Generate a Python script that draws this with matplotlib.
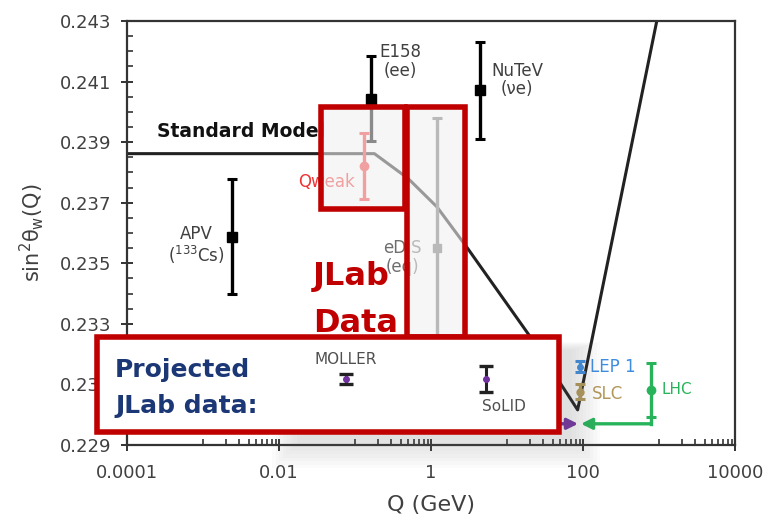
import numpy as np
import matplotlib
matplotlib.use("Agg")
import matplotlib.pyplot as plt
from matplotlib.patches import Rectangle
from matplotlib.ticker import FixedLocator, NullFormatter

# ---------------- data ----------------
sm_q = [1e-4, 0.18, 0.5, 1.2, 3.0, 19.0, 85.0, 935.0]
sm_s = [0.23862, 0.23862, 0.2378, 0.23686, 0.23551, 0.23267, 0.23016, 0.2430]

exp_names = ["APV", "E158", "NuTeV", "Qweak", "eDIS", "LEP 1", "SLC", "LHC"]
exp_labels = ["APV\n($^{133}$Cs)", "E158\n(ee)", "NuTeV\n(νe)", "Qweak", "eDIS\n(eq)",
              "LEP 1", "SLC", "LHC"]
exp_q = [0.0024, 0.163, 4.4, 0.131, 1.2, 91.0, 91.0, 780.0]
exp_s = [0.23587, 0.24043, 0.24072, 0.23821, 0.23551, 0.23158, 0.23076, 0.23082]
exp_err = [0.0019, 0.0014, 0.0016, 0.0011, 0.0043, 0.00018, 0.00025, 0.0009]

proj_names = ["MOLLER", "SoLID"]
proj_q = [0.075, 5.3]
proj_s = [0.23118, 0.23118]
proj_err = [0.00015, 0.00043]

arrow_level = 0.2297
purple_arrow_q = [30.0, 86.0]
green_arrow_q = [780.0, 94.0]

x_ticks = [1e-4, 1e-2, 1, 1e2, 1e4]
x_ticklabels = ["0.0001", "0.01", "1", "100", "10000"]
y_ticks = [0.229, 0.231, 0.233, 0.235, 0.237, 0.239, 0.241, 0.243]
y_ticklabels = ["0.229", "0.231", "0.233", "0.235", "0.237", "0.239", "0.241", "0.243"]

# ---------------- layout helpers ----------------
W, H = 766, 523
fig = plt.figure(figsize=(W / 100, H / 100), dpi=100)
fig.patch.set_facecolor("white")
ax = fig.add_axes([127 / W, 1 - 445 / H, (735 - 127) / W, (445 - 21) / H])

def frect(x0, y0, x1, y1, **kw):
    return Rectangle((x0 / W, 1 - y1 / H), (x1 - x0) / W, (y1 - y0) / H,
                     transform=fig.transFigure, clip_on=False, **kw)

def px2pt(v):
    return v * 72 / 100

GRAY_TXT = "#404040"
RED = "#c00000"

# ---------------- styles per experiment ----------------
styles = {
    "APV":   dict(color="black", marker="s", ms=6.5, txt=GRAY_TXT, off=(-36, -9), ha="center"),
    "E158":  dict(color="black", marker="s", ms=6.5, txt=GRAY_TXT, off=(29, 37), ha="center"),
    "NuTeV": dict(color="black", marker="s", ms=6.5, txt=GRAY_TXT, off=(37, 10), ha="center"),
    "Qweak": dict(color="#f03434", marker="o", ms=6, txt="#f03434", off=(-9, -16), ha="right"),
    "eDIS":  dict(color="#6e6e6e", marker="s", ms=6, txt="#6e6e6e", off=(-35, -10), ha="center"),
    "LEP 1": dict(color="#3d8de0", marker="o", ms=4, txt="#3d8de0", off=(10, 0), ha="left"),
    "SLC":   dict(color="#b3975a", marker="o", ms=5, txt="#b3975a", off=(12, -2), ha="left"),
    "LHC":   dict(color="#27b35a", marker="o", ms=6, txt="#27b35a", off=(11, 0), ha="left"),
}

# Standard Model curve
ax.plot(sm_q, sm_s, color="#222222", lw=2.2, zorder=2)
ax.text(2.48e-4, 0.23934, "Standard Model", fontsize=13.5, fontweight="bold",
        color="#111111", va="center", ha="left", zorder=2)

for name, lab, q, s, e in zip(exp_names, exp_labels, exp_q, exp_s, exp_err):
    st = styles[name]
    ax.errorbar(q, s, yerr=e, fmt=st["marker"], color=st["color"], ms=st["ms"],
                elinewidth=2.4, capsize=3.5, capthick=2.2, zorder=3)
    fs = 11 if name == "LHC" else 12
    ax.annotate(lab, (q, s), xytext=(px2pt(st["off"][0]), px2pt(st["off"][1])),
                textcoords="offset points", ha=st["ha"], va="center",
                fontsize=fs, color=st["txt"], linespacing=1.05, zorder=3)

# green connector from LHC error bar down to arrow level
i_lhc = exp_names.index("LHC")
ax.plot([exp_q[i_lhc], exp_q[i_lhc]], [exp_s[i_lhc] - exp_err[i_lhc], arrow_level],
        color=styles["LHC"]["color"], lw=2.4, zorder=3)
ax.annotate("", xy=(green_arrow_q[1], arrow_level), xytext=(green_arrow_q[0], arrow_level),
            arrowprops=dict(arrowstyle="-|>", color=styles["LHC"]["color"], lw=2.4,
                            mutation_scale=16, shrinkA=0, shrinkB=0), zorder=3)
ax.annotate("", xy=(purple_arrow_q[1], arrow_level), xytext=(purple_arrow_q[0], arrow_level),
            arrowprops=dict(arrowstyle="-|>", color="#7030a0", lw=2.4,
                            mutation_scale=16, shrinkA=0, shrinkB=0), zorder=3)

# ---------------- axes styling ----------------
ax.set_xscale("log")
ax.set_xlim(1e-4, 1e4)
ax.set_ylim(0.229, 0.243)
ax.xaxis.set_major_locator(FixedLocator(x_ticks))
ax.set_xticklabels(x_ticklabels)
minor_x = [k * 10.0 ** d for d in (-3, -1, 1, 3) for k in range(1, 10)]
ax.xaxis.set_minor_locator(FixedLocator(minor_x))
ax.xaxis.set_minor_formatter(NullFormatter())
ax.set_yticks(y_ticks)
ax.set_yticklabels(y_ticklabels)
ax.yaxis.set_minor_locator(FixedLocator(list(np.arange(0.2290, 0.2431, 0.0005))))
for sp in ax.spines.values():
    sp.set_color("#333333")
    sp.set_linewidth(1.6)
ax.tick_params(which="major", direction="inout", length=8, width=1.4, color="#333333",
               labelcolor=GRAY_TXT, labelsize=13)
ax.tick_params(axis="y", which="major", pad=7)
ax.tick_params(axis="x", which="major", pad=10)
ax.tick_params(which="minor", direction="in", length=4.5, width=1.2, color="#333333")
ax.set_xlabel("Q (GeV)", fontsize=16, color=GRAY_TXT, labelpad=9)
ax.set_ylabel(r"sin$^{2}$θ$_{\rm w}$(Q)", fontsize=15, color=GRAY_TXT, labelpad=10)

# ---------------- overlay boxes ----------------
box_fill = (0.94, 0.94, 0.94, 0.58)
ax.add_artist(frect(407, 107, 465, 337, facecolor=box_fill, edgecolor=RED, lw=4, zorder=4))
ax.add_artist(frect(321, 107, 405, 209, facecolor=box_fill, edgecolor=RED, lw=4, zorder=4))

ax.text(313 / W, 1 - 285 / H, "JLab", transform=fig.transFigure, fontsize=23,
        fontweight="bold", color=RED, ha="left", va="baseline", zorder=6, clip_on=False)
ax.text(313 / W, 1 - 332 / H, "Data", transform=fig.transFigure, fontsize=23,
        fontweight="bold", color=RED, ha="left", va="baseline", zorder=6, clip_on=False)

# soft shadow of projected box (mostly below / right)
for k in range(9):
    g = 3.5 * k
    ax.add_artist(frect(300 - g, 350 - g * 0.3, 572 + g, 440 + g,
                        facecolor=(0.45, 0.45, 0.45, 0.022), edgecolor="none", zorder=4.5))
ax.add_artist(frect(97, 337, 559, 432, facecolor="white", edgecolor=RED, lw=4, zorder=5))

NAVY = "#1b3775"
ax.text(115 / W, 1 - 377 / H, "Projected", transform=fig.transFigure, fontsize=18,
        fontweight="bold", color=NAVY, ha="left", va="baseline", zorder=6, clip_on=False)
ax.text(115 / W, 1 - 413 / H, "JLab data:", transform=fig.transFigure, fontsize=18,
        fontweight="bold", color=NAVY, ha="left", va="baseline", zorder=6, clip_on=False)

proj_offsets = {"MOLLER": (0, 19, "center"), "SoLID": (18, -28, "center")}
for name, q, s, e in zip(proj_names, proj_q, proj_s, proj_err):
    ax.errorbar(q, s, yerr=e, fmt="none", ecolor="#222222", elinewidth=2.2,
                capsize=5, capthick=2.4, zorder=6)
    ax.plot(q, s, "o", color="#7030a0", ms=4, zorder=7)
    dx, dy, ha = proj_offsets[name]
    ax.annotate(name, (q, s), xytext=(px2pt(dx), px2pt(dy)), textcoords="offset points",
                ha=ha, va="center", fontsize=11, color="#505050", zorder=7)

fig.savefig("out.png", dpi=100, facecolor="white")
